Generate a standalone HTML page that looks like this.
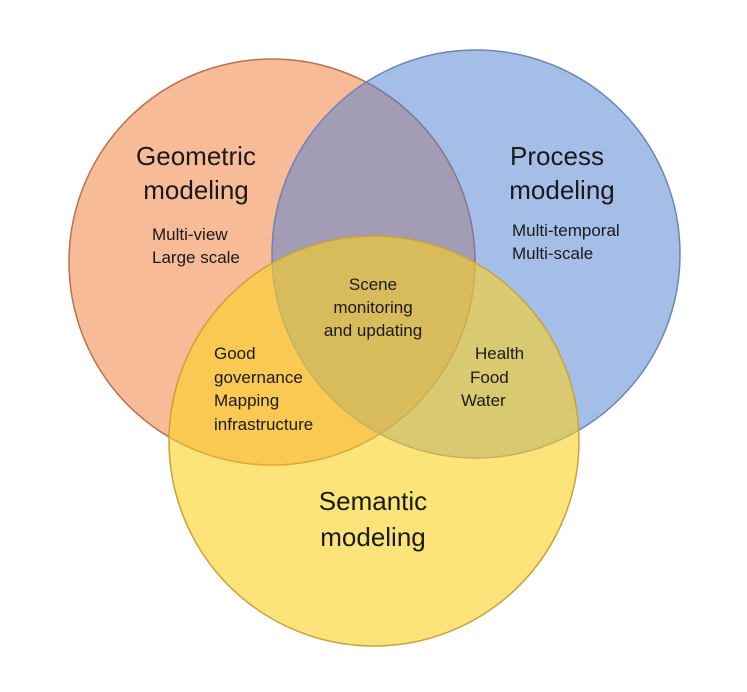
<!DOCTYPE html>
<html><head><meta charset="utf-8"><style>
html,body{margin:0;padding:0;background:#fff;}
svg{display:block;}
text{font-family:"Liberation Sans",sans-serif;fill:#1a1a1a;}
.big{font-size:26px;}
.sm{font-size:17px;}
</style></head><body>
<svg width="747" height="692" viewBox="0 0 747 692">
<circle cx="272" cy="262" r="203" fill="#f17731" fill-opacity="0.5" stroke="#b8724e" stroke-width="1.5"/>
<circle cx="476" cy="254" r="204" fill="#4b7dd1" fill-opacity="0.5" stroke="#6a86b5" stroke-width="1.5"/>
<circle cx="374" cy="441" r="205" fill="#fcd221" fill-opacity="0.6" stroke="#c9a23c" stroke-width="1.5"/>
<text class="big" x="196" y="165" text-anchor="middle">Geometric</text>
<text class="big" x="196" y="199" text-anchor="middle">modeling</text>
<text class="sm" x="152" y="240">Multi-view</text>
<text class="sm" x="152" y="263">Large scale</text>
<text class="big" x="557" y="165" text-anchor="middle">Process</text>
<text class="big" x="562" y="199" text-anchor="middle">modeling</text>
<text class="sm" x="512" y="236">Multi-temporal</text>
<text class="sm" x="512" y="259">Multi-scale</text>
<text class="sm" x="373" y="290" text-anchor="middle">Scene</text>
<text class="sm" x="373" y="313" text-anchor="middle">monitoring</text>
<text class="sm" x="373" y="336" text-anchor="middle">and updating</text>
<text class="sm" x="214" y="359">Good</text>
<text class="sm" x="214" y="383">governance</text>
<text class="sm" x="214" y="406">Mapping</text>
<text class="sm" x="214" y="430">infrastructure</text>
<text class="sm" x="475" y="359">Health</text>
<text class="sm" x="470" y="383">Food</text>
<text class="sm" x="461" y="406">Water</text>
<text class="big" x="373" y="510" text-anchor="middle">Semantic</text>
<text class="big" x="373" y="546" text-anchor="middle">modeling</text>
</svg>
</body></html>
